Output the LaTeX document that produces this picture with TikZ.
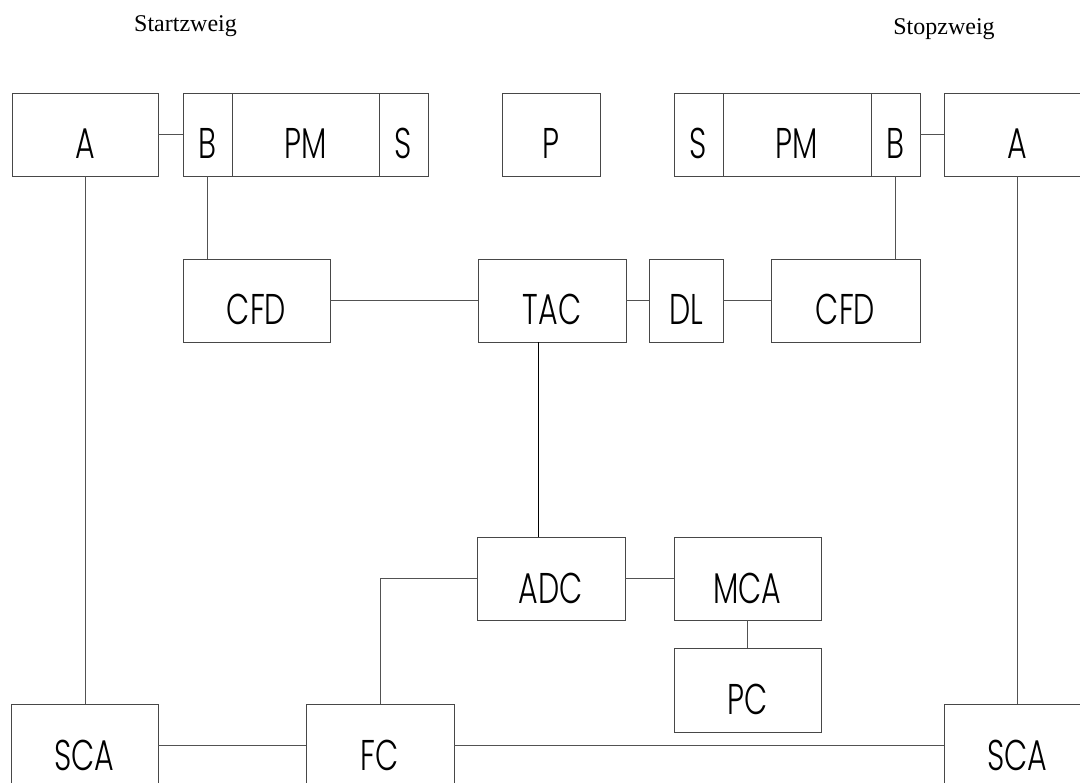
\documentclass[tikz,border=0pt]{standalone}
\usepackage{fontspec}
\setmainfont{Liberation Serif}
\IfFontExistsTF{Poppins Light}
  {\newfontfamily\boxfont[FakeStretch=0.70]{Poppins Light}}
  {\newfontfamily\boxfont[FakeStretch=0.70]{Poppins}}

% box given by its corners (x1,y1)-(x2,y2) and its label
\newcommand\mkbox[6]{%
  \node[blk, minimum width={(#4-#2)*1pt}, minimum height={(#5-#3)*1pt}]
    (#1) at ({(#2+#4)/2},{(#3+#5)/2}) {};
  \node[lbl] (#1-t) at ({(#2+#4)/2},{(#3+#5)/2+24.5}) {#6};}

\begin{document}
\begin{tikzpicture}[x=1pt,y=-1pt,
  blk/.style={draw=black!72, line width=0.9pt, rectangle, inner sep=0pt},
  lbl/.style={anchor=base, inner sep=0pt, font=\boxfont\fontsize{43}{43}\selectfont},
  wire/.style={draw=black!68, line width=0.9pt},
  heavywire/.style={draw=black, line width=1.8pt},
  heading/.style={anchor=base, inner sep=0pt, font=\fontsize{24}{24}\selectfont}]
\useasboundingbox (0,0) rectangle (1080,783);
\clip (0,0) rectangle (1080,783);

% headings
\node[heading] (start) at (185.5,32) {Startzweig};
\node[heading] (stop) at (944,35) {Stopzweig};

% top row
\mkbox{a1}{12}{93}{158}{176}{A}
\mkbox{b1}{183}{93}{232}{176}{B}
\mkbox{pm1}{232}{93}{379}{176}{PM}
\mkbox{s1}{379}{93}{428}{176}{S}
\mkbox{p}{502}{93}{600}{176}{P}
\mkbox{s2}{674}{93}{723}{176}{S}
\mkbox{pm2}{723}{93}{871}{176}{PM}
\mkbox{b2}{871}{93}{920}{176}{B}
\mkbox{a2}{944}{93}{1090}{176}{A}

% second row
\mkbox{cfd1}{183}{259}{330}{342}{CFD}
\mkbox{tac}{478}{259}{626}{342}{TAC}
\mkbox{dl}{649}{259}{723}{342}{DL}
\mkbox{cfd2}{771}{259}{920}{342}{CFD}

% lower part
\mkbox{adc}{477}{537}{625}{620}{ADC}
\mkbox{mca}{674}{537}{821}{620}{MCA}
\mkbox{pc}{674}{648}{821}{732}{PC}
\mkbox{sca1}{11}{704}{158}{787}{SCA}
\mkbox{fc}{306}{704}{454}{787}{FC}
\mkbox{sca2}{944}{704}{1091}{787}{SCA}

% connections
\draw[wire] (a1.east) -- (b1.west);
\draw[wire] (b2.east) -- (a2.west);
\draw[wire] (b1.south) -- (b1.south |- cfd1.north);
\draw[wire] (b2.south) -- (b2.south |- cfd2.north);
\draw[wire] (a1.south) -- (a1.south |- sca1.north);
\draw[wire] (a2.south) -- (a2.south |- sca2.north);
\draw[wire] (cfd1.east) -- (tac.west);
\draw[wire] (tac.east) -- (dl.west);
\draw[wire] (dl.east) -- (cfd2.west);
\draw[heavywire] ([xshift=61pt]tac.south west) -- ([xshift=61pt]tac.south west |- adc.north);
\draw[wire] (adc.west) -| (fc.north);
\draw[wire] (adc.east) -- (mca.west);
\draw[wire] (mca.south) -- (pc.north);
\draw[wire] (sca1.east) -- (fc.west);
\draw[wire] (fc.east) -- (sca2.west);
\end{tikzpicture}
\end{document}
